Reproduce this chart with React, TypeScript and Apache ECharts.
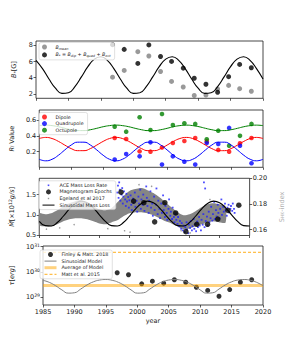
import React, { useEffect, useRef } from 'react';
import * as echarts from 'echarts';

// ---------- data ----------
const YEARS = [1985, 1986, 1987, 1988, 1989, 1990, 1991, 1992, 1993, 1994, 1995, 1996, 1997, 1998, 1999, 2000, 2001, 2002, 2003, 2004, 2005, 2006, 2007, 2008, 2009, 2010, 2011, 2012, 2013, 2014, 2015, 2016, 2017, 2018, 2019, 2020];

const EPOCHS = [1996.8, 1998.6, 2000.7, 2002.4, 2004.2, 2005.9, 2007.7, 2009.4, 2011.2, 2013.0, 2014.7, 2016.4, 2018.2];

// panel 1: field strengths
const B_MEAN = [4.07, 4.9, 7.23, 6.69, 4.77, 3.54, 2.85, 1.8, 1.85, 2.6, 3.05, 2.64, 2.32];
const B_STAR = [8.1, 7.51, 5.77, 8.06, 6.63, 6.02, 5.19, 3.93, 3.19, 2.2, 4.13, 5.65, 5.24];
const B_MODEL = [6.16, 5.13, 3.84, 2.7, 2.06, 2.13, 2.89, 4.1, 5.37, 6.3, 6.6, 6.16, 5.13, 3.84, 2.7, 2.06, 2.13, 2.89, 4.1, 5.37, 6.3, 6.6, 6.16, 5.13, 3.84, 2.7, 2.06, 2.13, 2.89, 4.1, 5.37, 6.3, 6.6, 6.16, 5.13, 3.84];

// panel 2: R_l values
const R_DIP = [0.373, 0.36, 0.204, 0.2, 0.254, 0.31, 0.335, 0.373, 0.33, 0.222, 0.2, 0.305, 0.373];
const R_QUAD = [0.1, 0.171, 0.141, 0.318, 0.037, 0.141, 0.074, 0.037, 0.31, 0.297, 0.5, 0.276, 0.054];
const R_OCT = [0.516, 0.453, 0.634, 0.474, 0.676, 0.537, 0.558, 0.55, 0.357, 0.465, 0.276, 0.4, 0.55];
const R_DIP_MODEL = [0.366, 0.38, 0.366, 0.33, 0.283, 0.239, 0.213, 0.213, 0.239, 0.283, 0.33, 0.366, 0.38, 0.366, 0.33, 0.283, 0.239, 0.213, 0.213, 0.239, 0.283, 0.33, 0.366, 0.38, 0.366, 0.33, 0.283, 0.239, 0.213, 0.213, 0.239, 0.283, 0.33, 0.366, 0.38, 0.366];
const R_QUAD_MODEL = [0.104, 0.085, 0.104, 0.155, 0.222, 0.284, 0.32, 0.32, 0.284, 0.222, 0.155, 0.104, 0.085, 0.104, 0.155, 0.222, 0.284, 0.32, 0.32, 0.284, 0.222, 0.155, 0.104, 0.085, 0.104, 0.155, 0.222, 0.284, 0.32, 0.32, 0.284, 0.222, 0.155, 0.104, 0.085, 0.104];
const R_OCT_MODEL = [0.529, 0.535, 0.529, 0.515, 0.495, 0.477, 0.466, 0.466, 0.477, 0.495, 0.515, 0.529, 0.535, 0.529, 0.515, 0.495, 0.477, 0.466, 0.466, 0.477, 0.495, 0.515, 0.529, 0.535, 0.529, 0.515, 0.495, 0.477, 0.466, 0.466, 0.477, 0.495, 0.515, 0.529, 0.535, 0.529];

// panel 3: mass loss
const MDOT_YEARS = [1998.6, 2000.7, 2002.4, 2004.2, 2005.9, 2007.7, 2009.4, 2011.2, 2013.0, 2014.7, 2016.4, 2018.2];
const MDOT_EPOCHS = [1.56, 1.34, 1.3, 0.83, 1.3, 1.05, 0.59, 0.77, 0.77, 0.9, 1.11, 1.24];
const MDOT_MODEL = [0.841, 0.738, 0.728, 0.814, 0.968, 1.143, 1.281, 1.339, 1.3, 1.175, 1.003, 0.841, 0.738, 0.728, 0.814, 0.968, 1.143, 1.281, 1.339, 1.3, 1.175, 1.003, 0.841, 0.738, 0.728, 0.814, 0.968, 1.143, 1.281, 1.339, 1.3, 1.175, 1.003, 0.841, 0.738, 0.728];
const ACE_POINTS = [
  [1998.0, 1.55], [1998.1, 1.72], [1998.2, 1.42], [1998.3, 1.8], [1998.4, 1.62], [1998.5, 1.35], [1998.7, 1.5], [1998.8, 1.66], [1998.9, 1.28], [1999.0, 1.45],
  [1999.1, 1.58], [1999.3, 1.38], [1999.4, 1.22], [1999.5, 1.52], [1999.6, 1.33], [1999.8, 1.44], [1999.9, 1.18], [2000.0, 1.36], [2000.2, 1.48], [2000.3, 1.25],
  [2000.4, 1.12], [2000.6, 1.4], [2000.7, 1.3], [2000.9, 1.55], [2001.0, 1.2], [2001.2, 1.35], [2001.3, 1.08], [2001.5, 1.45], [2001.6, 1.28], [2001.8, 1.62],
  [2001.9, 1.15], [2002.0, 1.38], [2002.2, 1.25], [2002.3, 1.5], [2002.5, 1.1], [2002.6, 1.32], [2002.8, 1.7], [2002.9, 1.42], [2003.0, 1.22], [2003.2, 1.05],
  [2003.3, 1.35], [2003.5, 1.58], [2003.6, 1.18], [2003.8, 1.28], [2003.9, 0.98], [2004.1, 1.45], [2004.2, 1.12], [2004.4, 1.25], [2004.5, 1.65], [2004.7, 1.02],
  [2004.8, 1.35], [2005.0, 1.15], [2005.1, 0.92], [2005.3, 1.28], [2005.4, 1.05], [2005.6, 1.48], [2005.7, 1.12], [2005.9, 0.95], [2006.0, 1.22], [2006.2, 1.05],
  [2006.3, 0.88], [2006.5, 1.15], [2006.6, 1.38], [2006.8, 0.98], [2006.9, 1.08], [2007.1, 0.9], [2007.2, 1.18], [2007.4, 0.95], [2007.5, 0.82], [2007.7, 1.02],
  [2007.8, 0.88], [2008.0, 0.78], [2008.1, 0.95], [2008.3, 0.72], [2008.4, 0.85], [2008.6, 0.66], [2008.7, 0.8], [2008.9, 0.62], [2009.0, 0.74], [2009.2, 0.58],
  [2009.3, 0.7], [2009.5, 0.82], [2009.6, 0.64], [2009.8, 0.55], [2009.9, 0.76], [2010.1, 0.68], [2010.2, 0.85], [2010.4, 0.62], [2010.5, 0.72], [2010.7, 0.9],
  [2010.8, 0.66], [2011.0, 0.78], [2011.1, 0.6], [2011.3, 0.84], [2011.4, 0.7], [2011.6, 0.95], [2011.7, 0.74], [2011.9, 0.62], [2012.0, 0.88], [2012.2, 0.76],
  [2012.3, 1.02], [2012.4, 1.8], [2012.5, 0.7], [2012.6, 1.65], [2012.7, 0.85], [2012.9, 0.96], [2013.0, 0.74], [2013.2, 1.08], [2013.3, 0.82], [2013.5, 0.92],
  [2013.6, 1.2], [2013.8, 0.86], [2013.9, 1.02], [2014.1, 1.32], [2014.2, 0.9], [2014.4, 1.12], [2014.5, 0.96], [2014.7, 1.25], [2014.8, 1.05], [2015.0, 0.92],
  [2015.1, 1.15], [2015.3, 1.38], [2015.4, 1.0], [2015.6, 1.2], [2015.7, 1.08], [2015.9, 1.28], [2016.0, 1.12], [2016.2, 0.98], [2016.3, 1.18], [2016.5, 1.25],
  [2016.6, 1.06], [2016.8, 1.15], [2016.9, 1.22], [2017.1, 1.1], [2017.2, 1.28], [2017.4, 1.15], [2017.5, 1.05],
];
// Egeland et al 2017 S-index: envelope of the dense band, plus scattered outliers
const EG_YEARS = [1985, 1986, 1987, 1988, 1989, 1990, 1991, 1992, 1993, 1994, 1995, 1996, 1997, 1998, 1999, 2000, 2001, 2002, 2003, 2004, 2005, 2006, 2007, 2008, 2009, 2010, 2011, 2012, 2013, 2014, 2015, 2016];
const EG_LOW = [0.1634, 0.1626, 0.1626, 0.1642, 0.1665, 0.1681, 0.1689, 0.1689, 0.1681, 0.1665, 0.1649, 0.1642, 0.1657, 0.1673, 0.1704, 0.1728, 0.1736, 0.1736, 0.1728, 0.1712, 0.1689, 0.1665, 0.1649, 0.1626, 0.1602, 0.161, 0.1626, 0.1642, 0.1657, 0.1665, 0.1657, 0.1657];
const EG_HIGH = [0.1728, 0.172, 0.1728, 0.1751, 0.1783, 0.1806, 0.1822, 0.183, 0.1806, 0.1783, 0.1759, 0.1751, 0.1767, 0.1814, 0.1861, 0.1901, 0.1916, 0.1924, 0.1908, 0.1885, 0.1853, 0.1814, 0.1775, 0.1736, 0.1712, 0.172, 0.1744, 0.1775, 0.1798, 0.1806, 0.1798, 0.1783];
const EG_OUTLIERS = [[1986.2, 0.1605], [1988.4, 0.1615], [1990.8, 0.164], [1996.4, 0.1608], [1999.2, 0.1592], [2000.1, 0.1582], [2001.6, 0.195], [2003.7, 0.1938], [2008.6, 0.1592], [2010.1, 0.1575], [2013.4, 0.1835]];

// panel 4: torque
const TORQUE = [9.1e29, 7.6e29, 3.3e29, 4.2e29, 3.5e29, 4.8e29, 3.8e29, 2.4e29, 1.8e29, 1.05e29, 1.94e29, 3.8e29, 4.8e29];
const TORQUE_MODEL = [4.56e29, 3.77e29, 2.77e29, 1.89e29, 1.4e29, 1.45e29, 2.04e29, 2.97e29, 3.95e29, 4.67e29, 4.9e29, 4.56e29, 3.77e29, 2.77e29, 1.89e29, 1.4e29, 1.45e29, 2.04e29, 2.97e29, 3.95e29, 4.67e29, 4.9e29, 4.56e29, 3.77e29, 2.77e29, 1.89e29, 1.4e29, 1.45e29, 2.04e29, 2.97e29, 3.95e29, 4.67e29, 4.9e29, 4.56e29, 3.77e29, 2.77e29];
const TORQUE_AVG = 2.8e29;
const TORQUE_MATT = 6.0e30;

const X_RANGE = [1985, 2020];

// ---------- styling ----------
const FONT = 'DejaVu Sans';
const INK = '#1a1a1a';
const LBL = 6.5;
const SM = 4.6;

const pairs = (xs: number[], ys: number[]) => xs.map((x, i) => [x, ys[i]]);

const nameRich = {
  i: { fontStyle: 'italic', fontSize: LBL, fontFamily: FONT, color: INK },
  n: { fontSize: LBL, fontFamily: FONT, color: INK },
  sub: { fontSize: SM, fontFamily: FONT, color: INK, verticalAlign: 'bottom' },
  subi: { fontSize: SM, fontStyle: 'italic', fontFamily: FONT, color: INK, verticalAlign: 'bottom' },
  sup: { fontSize: SM, fontFamily: FONT, color: INK, verticalAlign: 'top' },
  gn: { fontSize: LBL, fontFamily: FONT, color: '#b0b0b0' },
  gsub: { fontSize: SM, fontFamily: FONT, color: '#b0b0b0', verticalAlign: 'bottom' },
};

const legendRich = {
  i: { fontStyle: 'italic', fontSize: 4.8, fontFamily: FONT, color: INK, lineHeight: 6 },
  s: { fontStyle: 'italic', fontSize: 3.4, fontFamily: FONT, color: INK, verticalAlign: 'bottom', lineHeight: 6 },
  n: { fontSize: 4.8, fontFamily: FONT, color: INK, lineHeight: 6 },
};

const grids = [
  { top: 41, height: 57.3 },
  { top: 110, height: 57.3 },
  { top: 178.3, height: 57.2 },
  { top: 246, height: 59 },
].map((g) => ({ ...g, left: 36, right: 30, show: true, borderColor: INK, borderWidth: 0.8, backgroundColor: 'rgba(0,0,0,0)' }));

const xAxes = [0, 1, 2, 3].map((i) => ({
  type: 'value',
  gridIndex: i,
  min: X_RANGE[0],
  max: X_RANGE[1],
  interval: 5,
  axisLine: { show: false },
  splitLine: { show: false },
  axisTick: { show: true, length: 2.5, lineStyle: { color: INK, width: 0.7 } },
  axisLabel: { show: i === 3, fontSize: LBL, fontFamily: FONT, color: INK, margin: 3, formatter: (v: number) => String(v) },
  name: i === 3 ? 'year' : '',
  nameLocation: 'middle',
  nameGap: 12.5,
  nameTextStyle: { fontSize: LBL, fontFamily: FONT, color: INK },
}));

const yValue = (gridIndex: number, min: number, max: number, ticks: number[], digits: number, name: string, nameGap: number, extra: any = {}) => ({
  type: 'value',
  gridIndex,
  min,
  max,
  axisLine: { show: false },
  splitLine: { show: false },
  axisTick: { show: true, length: 2.5, lineStyle: { color: INK, width: 0.7 }, customValues: ticks },
  axisLabel: { fontSize: LBL, fontFamily: FONT, color: INK, margin: 3, customValues: ticks, formatter: (v: number) => v.toFixed(digits) },
  name,
  nameLocation: 'middle',
  nameGap,
  nameRotate: 90,
  nameTextStyle: { fontSize: LBL, fontFamily: FONT, color: INK, rich: nameRich },
  ...extra,
});

const yAxes = [
  yValue(0, 1.45, 8.55, [2, 4, 6, 8], 0, '{i|B}{sub|*}{n|[G]}', 11),
  yValue(1, 0.003, 0.726, [0.2, 0.4, 0.6], 1, '{i|R}{subi|l}{n| Value}', 16),
  yValue(2, 0.495, 1.9, [0.5, 1.0, 1.5], 1, '{i|Ṁ}{n|[×10}{sup|12}{i|g/s}{n|]}', 15),
  yValue(2, 0.1555, 0.2, [0.16, 0.18, 0.2], 2, '{gn|S}{gsub|HK}{gn|-index}', 20, { position: 'right' }),
  {
    type: 'log',
    logBase: 10,
    gridIndex: 3,
    min: 4.7e28,
    max: 1.07e31,
    axisLine: { show: false },
    splitLine: { show: false },
    axisTick: { show: true, length: 2.5, lineStyle: { color: INK, width: 0.7 } },
    axisLabel: {
      fontSize: LBL,
      fontFamily: FONT,
      color: INK,
      margin: 3,
      showMinLabel: false,
      showMaxLabel: false,
      formatter: (v: number) => '10{sup|' + Math.round(Math.log10(v)) + '}',
      rich: { sup: { fontSize: SM, fontFamily: FONT, color: INK, verticalAlign: 'top' } },
    },
    name: '{i|τ}{n|[}{i|erg}{n|]}',
    nameLocation: 'middle',
    nameGap: 19,
    nameRotate: 90,
    nameTextStyle: { fontSize: LBL, fontFamily: FONT, color: INK, rich: nameRich },
  },
];

const legendBase = {
  orient: 'vertical',
  backgroundColor: 'rgba(255,255,255,0.8)',
  borderColor: '#cccccc',
  borderWidth: 0.6,
  borderRadius: 2,
  padding: [2, 4, 2, 3],
  itemWidth: 12,
  itemHeight: 5,
  itemGap: 1.6,
  selectedMode: false,
  textStyle: { fontSize: 4.8, fontFamily: FONT, color: INK, rich: legendRich },
};

// icon paths: invisible bounding points set the box, a tiny mark sits in the middle
const TINY_SQUARE = 'path://M-6,-2.5 M6,2.5 M-0.8,-0.8 L0.8,-0.8 L0.8,0.8 L-0.8,0.8 Z';
const TINY_DOT = 'path://M-6,-2.5 M6,2.5 M-0.7,-0.7 L0.7,-0.7 L0.7,0.7 L-0.7,0.7 Z';
const NO_MARK = { opacity: 0 };

const legends = [
  {
    ...legendBase,
    left: 39,
    top: 42.5,
    itemGap: 2.4,
    data: [{ name: 'Bmean', icon: 'circle' }, { name: 'Bstar', icon: 'circle' }],
    formatter: (n: string) => (n === 'Bmean' ? '{i|B}{s|mean}' : '{i|B}{s|*}{n| = }{i|B}{s|dip}{n| + }{i|B}{s|quad}{n| + }{i|B}{s|oct}'),
  },
  {
    ...legendBase,
    left: 39,
    top: 112.5,
    data: [{ name: 'Dipole', icon: 'circle' }, { name: 'Quadrupole', icon: 'circle' }, { name: 'Octupole', icon: 'circle' }],
  },
  {
    ...legendBase,
    left: 39,
    top: 180.8,
    data: [
      { name: 'ACE Mass Loss Rate', icon: TINY_SQUARE },
      { name: 'Magnetogram Epochs', icon: 'circle' },
      { name: 'Egeland et al 2017', icon: TINY_DOT },
      { name: 'Sinusoidal Mass Loss', itemStyle: NO_MARK, lineStyle: { width: 1 } },
    ],
  },
  {
    ...legendBase,
    left: 40,
    top: 250,
    data: [
      { name: 'Finley & Matt. 2018', icon: 'circle' },
      { name: 'Sinusoidal Model', itemStyle: NO_MARK, lineStyle: { width: 1 } },
      { name: 'Average of Model', itemStyle: NO_MARK, lineStyle: { width: 3 } },
      { name: 'Matt et al. 2015', itemStyle: NO_MARK, lineStyle: { width: 0.9 } },
    ],
  },
];

const line = (name: string, xi: number, yi: number, data: any[], color: string, width: number, extra: any = {}) => ({
  type: 'line',
  name,
  xAxisIndex: xi,
  yAxisIndex: yi,
  data,
  smooth: true,
  symbol: 'none',
  showSymbol: false,
  lineStyle: { color, width },
  itemStyle: { color },
  ...extra,
});
const dots = (name: string, xi: number, yi: number, data: any[], color: string, size: number, extra: any = {}) => ({
  type: 'scatter',
  name,
  xAxisIndex: xi,
  yAxisIndex: yi,
  data,
  symbolSize: size,
  itemStyle: { color },
  ...extra,
});

const egelandBand = {
  type: 'custom',
  name: 'Egeland band',
  xAxisIndex: 2,
  yAxisIndex: 3,
  silent: true,
  data: [[EG_YEARS[0], EG_LOW[0]]],
  renderItem: (_params: any, api: any) => {
    const upper = EG_YEARS.map((y, i) => api.coord([y, EG_HIGH[i]]));
    const lower = EG_YEARS.map((y, i) => api.coord([y, EG_LOW[i]])).reverse();
    return {
      type: 'polygon',
      shape: { points: [...upper, ...lower], smooth: 0.25 },
      style: { fill: '#858585', stroke: 'none' },
    };
  },
};

const series = [
  // panel 1
  dots('Bmean', 0, 0, pairs(EPOCHS, B_MEAN), '#808080', 5),
  dots('Bstar', 0, 0, pairs(EPOCHS, B_STAR), '#000000', 5),
  line('B model', 0, 0, pairs(YEARS, B_MODEL), '#000000', 1.1),
  // panel 2
  line('Dipole model', 1, 1, pairs(YEARS, R_DIP_MODEL), '#ff0000', 1),
  line('Quadrupole model', 1, 1, pairs(YEARS, R_QUAD_MODEL), '#0000ff', 1),
  line('Octupole model', 1, 1, pairs(YEARS, R_OCT_MODEL), '#008000', 1),
  dots('Dipole', 1, 1, pairs(EPOCHS, R_DIP), '#ff0000', 4.6),
  dots('Quadrupole', 1, 1, pairs(EPOCHS, R_QUAD), '#0000ff', 4.6),
  dots('Octupole', 1, 1, pairs(EPOCHS, R_OCT), '#008000', 4.6),
  // panel 3
  egelandBand,
  dots('Egeland et al 2017', 2, 3, EG_OUTLIERS, '#808080', 1.5),
  dots('ACE Mass Loss Rate', 2, 2, ACE_POINTS, '#1f1fff', 1.8, { symbol: 'rect' }),
  line('Sinusoidal Mass Loss', 2, 2, pairs(YEARS, MDOT_MODEL), '#000000', 1.1),
  dots('Magnetogram Epochs', 2, 2, pairs(MDOT_YEARS, MDOT_EPOCHS), '#000000', 5.5),
  // panel 4
  line('Average of Model', 3, 4, [[X_RANGE[0], TORQUE_AVG], [X_RANGE[1], TORQUE_AVG]], 'rgba(255,165,0,0.5)', 3, { smooth: false }),
  line('Matt et al. 2015', 3, 4, [[X_RANGE[0], TORQUE_MATT], [X_RANGE[1], TORQUE_MATT]], '#ffa500', 0.9, {
    smooth: false,
    lineStyle: { color: '#ffa500', width: 0.9, type: [3, 2] },
  }),
  line('Sinusoidal Model', 3, 4, pairs(YEARS, TORQUE_MODEL), '#808080', 1),
  dots('Finley & Matt. 2018', 3, 4, pairs(EPOCHS, TORQUE), '#000000', 5),
];

const option = {
  animation: false,
  backgroundColor: '#ffffff',
  grid: grids,
  xAxis: xAxes,
  yAxis: yAxes,
  legend: legends,
  series,
};

export default function App() {
  const ref = useRef<HTMLDivElement>(null);
  useEffect(() => {
    if (!ref.current) return;
    const chart = echarts.init(ref.current, null, { renderer: 'svg' });
    chart.setOption(option as any);
    return () => chart.dispose();
  }, []);
  return <div ref={ref} style={{ position: 'absolute', left: 0, top: 0, width: 293, height: 342, background: '#fff' }} />;
}
